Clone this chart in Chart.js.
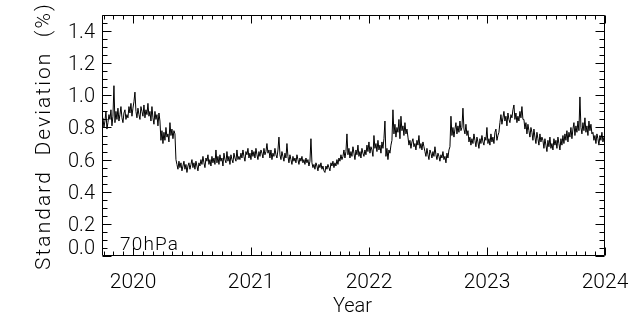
<!DOCTYPE html>
<html>
<head>
<meta charset="utf-8">
<title>Standard Deviation 70hPa</title>
<script src="https://cdn.jsdelivr.net/npm/chart.js@4.4.1/dist/chart.umd.min.js"></script>
<style>
  html, body { margin: 0; padding: 0; background: #fff; }
  canvas { display: block; }
</style>
</head>
<body>
<canvas id="sdChart" width="629" height="321"></canvas>
<script>
// axis ranges and labels
const xRange = [2019.737, 2024.0];
const yRange = [0.0, 1.5];
const yearTicks = [2020, 2021, 2022, 2023, 2024];
const yTickValues = [0.0, 0.2, 0.4, 0.6, 0.8, 1.0, 1.2, 1.4];
const yTickLabels = ['0.0', '0.2', '0.4', '0.6', '0.8', '1.0', '1.2', '1.4'];
const levelLabel = '70hPa';

// series: one value about every 3.1 days, starting early October 2019
const seriesStart = 2019.745;
const seriesStep = 0.008475;
const stdDev = [
  // Oct 2019 - May 2020
  0.86, 0.80, 0.84, 0.90, 0.79, 0.83, 0.88, 0.85, 0.91, 0.81, 0.87,
  1.06,
  0.83, 0.90, 0.85, 0.92, 0.84, 0.88, 0.93, 0.86, 0.83, 0.89, 0.91, 0.85, 0.88,
  0.86, 0.93, 0.89, 0.95, 0.87, 0.92, 0.96, 1.02, 0.90,
  0.86, 0.92, 0.88, 0.85, 0.93, 0.90, 0.87, 0.94, 0.86, 0.91, 0.88, 0.95, 0.87, 0.90,
  0.84, 0.93, 0.86, 0.82, 0.90, 0.85, 0.88, 0.81, 0.89, 0.84,
  0.72, 0.78, 0.70,
  0.77, 0.72, 0.80, 0.74, 0.76, 0.71, 0.83, 0.75, 0.79, 0.73, 0.78, 0.76,
  0.60,
  // late May 2020 - 2021
  0.57, 0.54, 0.59, 0.55, 0.58, 0.53, 0.56, 0.59, 0.54, 0.57,
  0.52, 0.56, 0.58, 0.54, 0.57, 0.60, 0.55, 0.58, 0.54, 0.59,
  0.56, 0.53, 0.58,
  0.56, 0.60, 0.57, 0.62, 0.58, 0.55, 0.61, 0.59, 0.63, 0.57,
  0.60, 0.56, 0.62, 0.58, 0.61, 0.57, 0.66,
  0.58, 0.62, 0.57, 0.63, 0.59, 0.61, 0.56, 0.64, 0.60, 0.58,
  0.65, 0.59, 0.62, 0.57, 0.63, 0.60, 0.58, 0.64, 0.61, 0.59,
  0.66, 0.60, 0.62,
  0.60, 0.64, 0.61, 0.66, 0.62, 0.59, 0.65, 0.63, 0.67, 0.61,
  0.64, 0.60, 0.66, 0.62, 0.65, 0.61, 0.67, 0.63, 0.60, 0.65,
  0.62, 0.66, 0.64, 0.61, 0.67, 0.63, 0.65, 0.70, 0.64, 0.66,
  0.61, 0.66, 0.60, 0.64, 0.62, 0.67, 0.63, 0.61, 0.66, 0.74,
  0.63, 0.60, 0.65, 0.62, 0.59, 0.64, 0.61, 0.70,
  0.62, 0.58, 0.63, 0.60, 0.57, 0.62, 0.59, 0.61, 0.58, 0.63,
  0.60, 0.57, 0.61, 0.59, 0.62, 0.58, 0.60, 0.57, 0.61, 0.58,
  0.60, 0.56, 0.59,
  0.73,
  0.58, 0.55, 0.57, 0.54, 0.58, 0.56, 0.53, 0.57, 0.55, 0.58,
  0.54, 0.56, 0.53, 0.52, 0.56, 0.54, 0.57, 0.55, 0.53, 0.58,
  0.56, 0.59, 0.55,
  // late 2021 - 2022
  0.58, 0.56, 0.60, 0.57, 0.61, 0.59, 0.63, 0.60, 0.62, 0.66, 0.61, 0.65, 0.76,
  0.63, 0.67, 0.61, 0.65, 0.62, 0.68, 0.64, 0.60, 0.66, 0.63,
  0.69, 0.62, 0.65, 0.61, 0.67, 0.64, 0.62, 0.66,
  0.63, 0.69, 0.65, 0.71, 0.64, 0.68, 0.66, 0.62, 0.75, 0.67,
  0.70, 0.65, 0.72, 0.66, 0.69, 0.64, 0.71, 0.67, 0.73,
  0.84,
  0.62, 0.67, 0.60, 0.66, 0.64, 0.69, 0.72,
  0.91, 0.76, 0.82, 0.74, 0.80, 0.77, 0.85, 0.73, 0.87, 0.78,
  0.81, 0.75, 0.83, 0.76, 0.79,
  0.74, 0.69, 0.72, 0.67, 0.71, 0.73, 0.68, 0.70, 0.66, 0.72,
  0.69, 0.75, 0.67, 0.70, 0.66, 0.71, 0.68,
  0.65, 0.62, 0.67, 0.63, 0.60, 0.66, 0.64, 0.61, 0.65, 0.62,
  0.68, 0.63, 0.60, 0.64, 0.62, 0.59, 0.63, 0.61, 0.65, 0.60,
  0.62, 0.58, 0.64, 0.61, 0.66, 0.68,
  // autumn 2022 - 2023
  0.87,
  0.75, 0.80, 0.74, 0.79, 0.83, 0.76, 0.81, 0.77, 0.84, 0.78,
  0.80, 0.92, 0.79, 0.76, 0.82, 0.75, 0.78,
  0.71, 0.74, 0.69, 0.73, 0.70, 0.76, 0.72, 0.68, 0.74, 0.71,
  0.67, 0.73, 0.70, 0.75, 0.71, 0.69, 0.74, 0.72, 0.80, 0.70,
  0.73, 0.69, 0.76, 0.71, 0.74, 0.70, 0.77, 0.79, 0.72, 0.75,
  0.77,
  0.83, 0.88, 0.82, 0.86, 0.90, 0.84, 0.87, 0.81, 0.89, 0.85,
  0.83, 0.88, 0.86, 0.91, 0.94, 0.85, 0.89, 0.83, 0.87, 0.84,
  0.90, 0.86, 0.93, 0.85,
  0.85, 0.79, 0.83, 0.76, 0.82, 0.78, 0.74, 0.80, 0.77, 0.72,
  0.79, 0.74, 0.70, 0.77, 0.73, 0.69, 0.76, 0.71, 0.74,
  0.72, 0.67, 0.73, 0.69, 0.65, 0.72, 0.68, 0.74, 0.67, 0.70,
  0.66, 0.73, 0.69, 0.72, 0.67, 0.74, 0.70, 0.66, 0.73, 0.69,
  0.75, 0.70, 0.76, 0.72, 0.78, 0.71, 0.77, 0.74, 0.80, 0.73,
  0.79, 0.83, 0.75, 0.81, 0.77, 0.84, 0.78,
  0.99,
  0.80, 0.76, 0.83, 0.78, 0.86, 0.77, 0.81, 0.75, 0.84, 0.78, 0.82, 0.76,
  0.77, 0.72, 0.75, 0.70, 0.76, 0.73, 0.69, 0.75, 0.72, 0.77, 0.71, 0.74
];

const points = stdDev.map((v, i) => ({ x: seriesStart + i * seriesStep, y: v }));

const FONT = "'Roboto', 'DejaVu Sans', sans-serif";

// draw text, optionally spreading the letters to a given width
function putText(ctx, text, x, y, size, align, fitWidth) {
  ctx.font = `300 ${size}px ${FONT}`;
  ctx.letterSpacing = '0px';
  if (fitWidth) {
    const w = ctx.measureText(text).width;
    ctx.letterSpacing = ((fitWidth - w) / (text.length - 1)) + 'px';
  }
  ctx.textAlign = align;
  ctx.fillText(text, x, y);
  ctx.letterSpacing = '0px';
}

// box frame with inward ticks, labels and titles
const idlFrame = {
  id: 'idlFrame',
  afterDatasetsDraw(chart) {
    const { ctx, chartArea: a, scales: { x, y } } = chart;
    const L = a.left + 0.5, R = a.right - 0.5, T = a.top + 0.5, B = a.bottom - 0.5;
    ctx.save();
    ctx.strokeStyle = '#000';
    ctx.lineWidth = 1;
    ctx.beginPath();
    ctx.rect(L, T, R - L, B - T);

    // y ticks every 0.05, long ones at the labelled values
    for (let k = 0; k <= 30; k++) {
      const v = k * 0.05;
      const py = Math.round(y.getPixelForValue(v)) + 0.5;
      const major = yTickValues.some(t => Math.abs(t - v) < 1e-6);
      const len = major ? 9 : 5;
      ctx.moveTo(L, py); ctx.lineTo(L + len, py);
      ctx.moveTo(R, py); ctx.lineTo(R - len, py);
    }

    // x ticks every month, long ones at the years
    for (let yr = 2019; yr <= 2024; yr++) {
      for (let m = 0; m < 12; m++) {
        const v = yr + m / 12;
        if (v < xRange[0] || v > xRange[1]) continue;
        const px = Math.round(x.getPixelForValue(v)) + 0.5;
        const len = m === 0 ? 8 : 4;
        ctx.moveTo(px, B); ctx.lineTo(px, B - len);
        ctx.moveTo(px, T); ctx.lineTo(px, T + len);
      }
    }
    ctx.stroke();

    ctx.fillStyle = '#000';
    ctx.textBaseline = 'middle';
    yTickValues.forEach((v, i) => {
      const py = Math.min(y.getPixelForValue(v) + 2, a.bottom - 7);
      putText(ctx, yTickLabels[i], a.left - 7, py, 20, 'right');
    });
    yearTicks.forEach(yr => {
      putText(ctx, String(yr), x.getPixelForValue(yr), a.bottom + 27, 21, 'center');
    });

    putText(ctx, 'Year', (a.left + a.right) / 2 - 1, a.bottom + 51, 20, 'center');
    ctx.textBaseline = 'alphabetic';
    putText(ctx, levelLabel, a.left + 18, a.bottom - 6, 19, 'left', 58);

    ctx.translate(50, 136);
    ctx.rotate(-Math.PI / 2);
    putText(ctx, 'Standard  Deviation  (%)', 0, 0, 21, 'center', 266);
    ctx.restore();
  }
};

new Chart(document.getElementById('sdChart'), {
  type: 'line',
  data: {
    datasets: [{
      data: points,
      borderColor: '#000',
      borderWidth: 1,
      pointRadius: 0,
      tension: 0,
      fill: false
    }]
  },
  options: {
    responsive: false,
    animation: false,
    events: [],
    layout: { padding: { left: 102, right: 24, top: 15, bottom: 65 } },
    scales: {
      x: { type: 'linear', min: xRange[0], max: xRange[1], display: false },
      y: { type: 'linear', min: yRange[0], max: yRange[1], display: false }
    },
    plugins: { legend: { display: false }, tooltip: { enabled: false } }
  },
  plugins: [idlFrame]
});
</script>
</body>
</html>
